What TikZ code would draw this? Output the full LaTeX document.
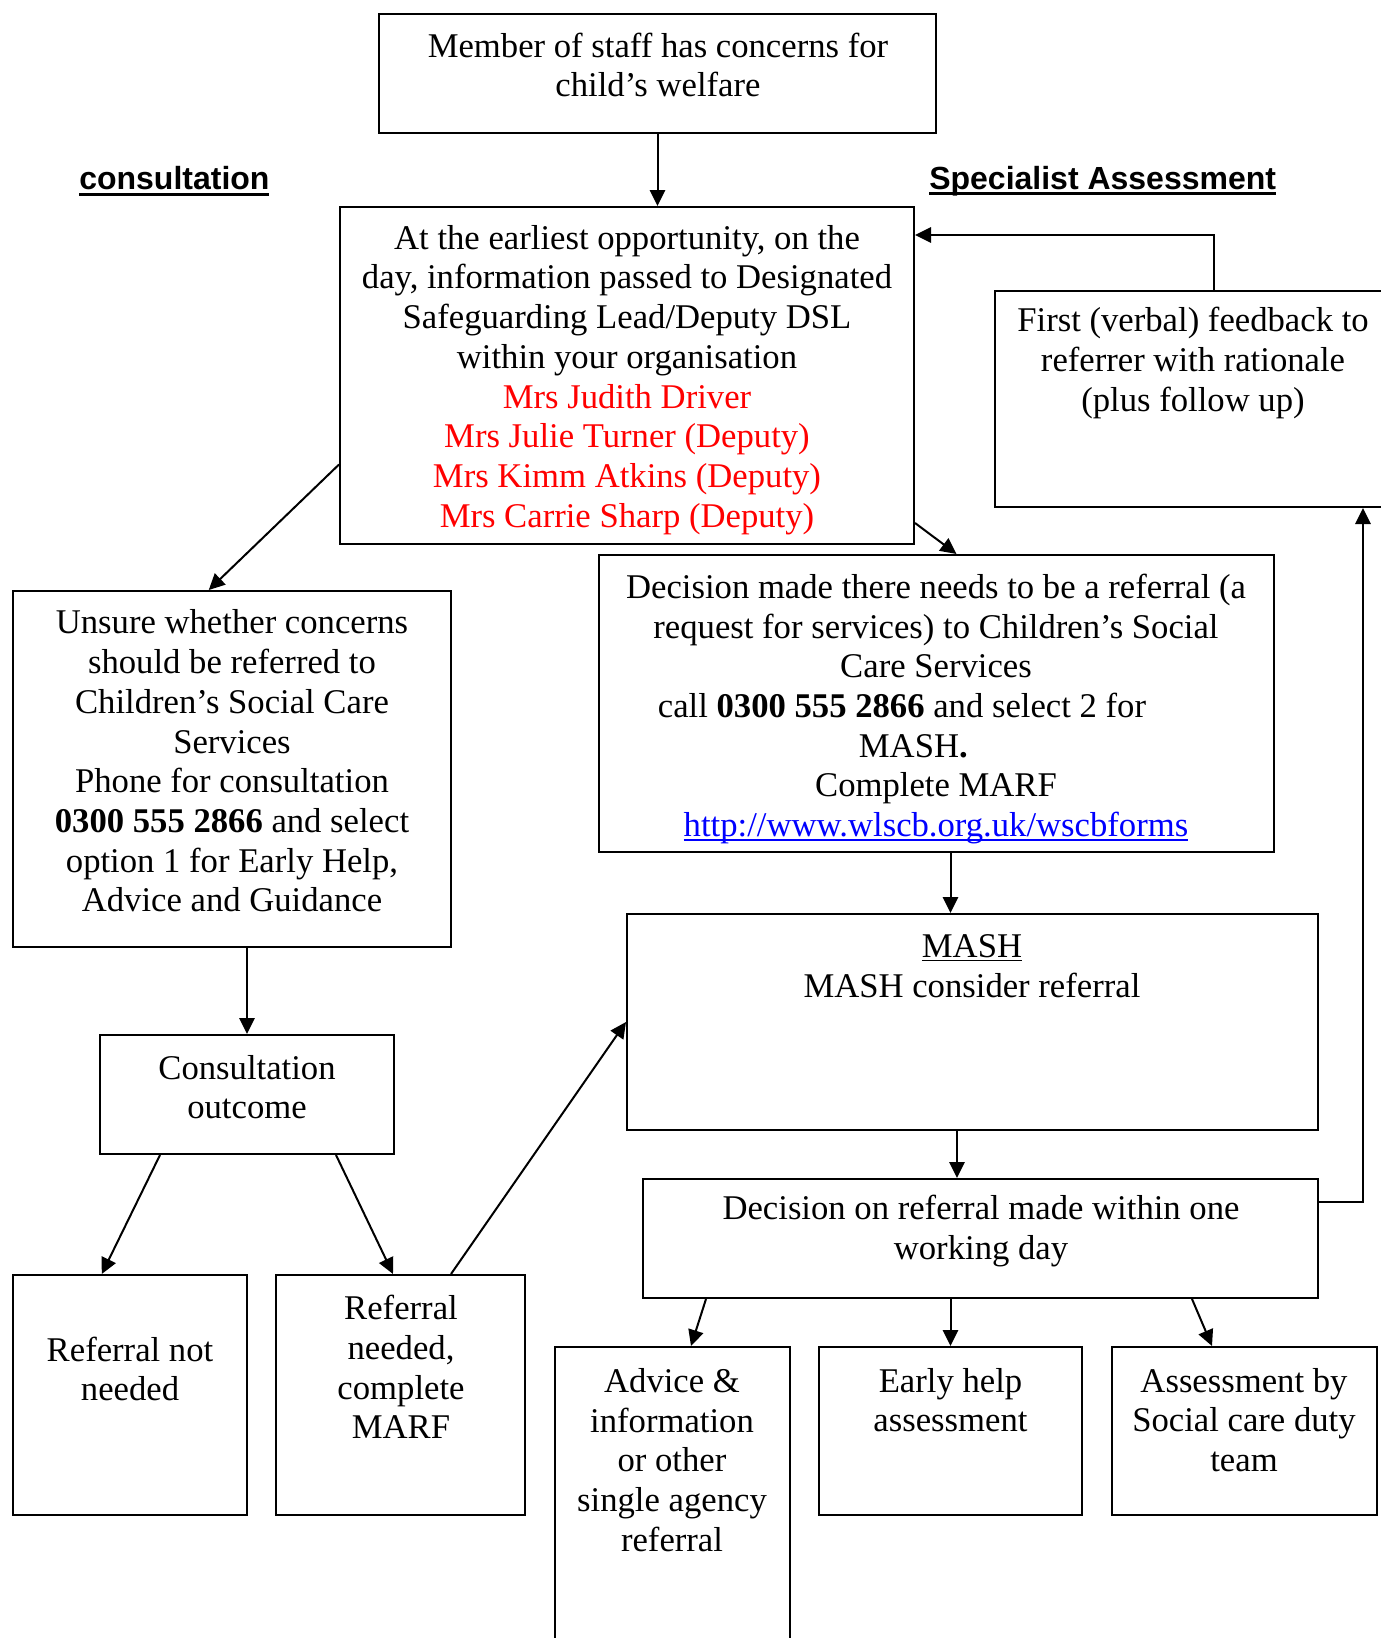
\documentclass[tikz,border=0pt]{standalone}
\usepackage{fontspec}
\setmainfont{Liberation Serif}
\newfontfamily\headfont{Liberation Sans}
\usetikzlibrary{calc,arrows.meta}
\newcommand\thickul[1]{\setbox0\hbox{#1}\mbox{\rlap{\rule[-4.5pt]{\wd0}{2.2pt}}\box0}}
\newcommand\thinul[1]{\setbox0\hbox{#1}\mbox{\rlap{\rule[-3pt]{\wd0}{1.2pt}}\box0}}
\definecolor{linkblue}{RGB}{0,0,255}
\newcommand\bx[5]{\node[box, minimum width={(#4-#2)*0.75pt}, minimum height={(#5-#3)*0.75pt}] (#1) at ({(#2+#4)/2},{(#3+#5)/2}) {};}
\begin{document}
\begin{tikzpicture}[x=0.75pt,y=-0.75pt,
  box/.style={draw, line width=1.5pt, inner sep=0pt},
  txt/.style={align=center, inner sep=0pt, font=\fontsize{26}{29.8}\selectfont},
  arr/.style={line width=1.5pt, -{Triangle[length=12pt,width=11.5pt]}},
  head/.style={anchor=west, inner sep=0pt, font=\headfont\bfseries\fontsize{24}{28}\selectfont}]
\useasboundingbox[fill=white] (0,0) rectangle (1381,1638);

% boxes
\bx{top}{379}{14}{936}{133}
\bx{dsl}{340}{207}{914}{544}
\bx{fb}{995}{291}{1383}{507}
\bx{unsure}{12.5}{591}{451}{947}
\bx{dec}{599}{555}{1274}{852}
\bx{mash}{627}{914}{1318}{1130}
\bx{outcome}{100}{1035}{394}{1154}
\bx{notneeded}{12.5}{1275}{247}{1515}
\bx{needed}{276}{1275}{525}{1515}
\bx{dec2}{643}{1179}{1318}{1298}
\bx{advice}{555}{1347}{790}{1645}
\bx{early}{819}{1347}{1082}{1515}
\bx{assess}{1112}{1347}{1377}{1515}

% headings
\node[head] (hcons) at (79,181) {\thickul{consultation}};
\node[head] (hspec) at (929,181) {\thickul{Specialist Assessment}};

% texts
\node[txt] (ttop) at (658,65) {Member of staff has concerns for\\child’s welfare};
\node[txt] (tdsl) at (627,380) {At the earliest opportunity, on the\\day, information passed to Designated\\Safeguarding Lead/Deputy DSL\\within your organisation\\\textcolor{red}{Mrs Judith Driver}\\\textcolor{red}{Mrs Julie Turner (Deputy)}\\\textcolor{red}{Mrs Kimm Atkins (Deputy)}\\\textcolor{red}{Mrs Carrie Sharp (Deputy)}};
\node[txt] (tfb) at (1193,363) {First (verbal) feedback to\\referrer with rationale\\(plus follow up)};
\node[txt] (tunsure) at (232,761) {Unsure whether concerns\\should be referred to\\Children’s Social Care\\Services\\Phone for consultation\\\textbf{0300 555 2866} and select\\option 1 for Early Help,\\Advice and Guidance};
\node[txt] (tdec) at (936,709) {Decision made there needs to be a referral (a\\request for services) to Children’s Social\\Care Services\\call \textbf{0300 555 2866} and select 2 for\rule{51pt}{0pt}\\MASH\textbf{.}\rule{34pt}{0pt}\\Complete MARF\\\textcolor{linkblue}{\thinul{http://www.wlscb.org.uk/wscbforms}}};
\node[txt] (tmash) at (972,966) {\thinul{MASH}\\MASH consider referral};
\node[txt] (toutcome) at (247,1087) {Consultation\\outcome};
\node[txt] (tnot) at (130,1369) {Referral not\\needed};
\node[txt] (tneeded) at (401,1367) {Referral\\needed,\\complete\\MARF};
\node[txt] (tdec2) at (981,1231) {Decision on referral made within one\\working day};
\node[txt] (tadvice) at (672,1460) {Advice \&\\information\\or other\\single agency\\referral};
\node[txt] (tearly) at (950.5,1400) {Early help\\assessment};
\node[txt] (tassess) at (1244,1420) {Assessment by\\Social care duty\\team};

% connectors
\draw[arr] (top.south) -- (top.south |- dsl.north);
\draw[arr] ($(dsl.west)+(0,89)$) -- ($(unsure.north)+(-23,0)$);
\draw[arr] ($(dsl.south east)+(0,-22)$) -- ($(dec.north)+(20,0)$);
\coordinate (p4) at ($(dec.south)+(14,0)$);
\draw[arr] (p4) -- (p4 |- mash.north);
\draw[arr] ($(fb.north)+(25,0)$) |- ($(dsl.north east)+(0,29)$);
\draw[arr] (outcome.north |- unsure.south) -- (outcome.north);
\draw[arr] ($(outcome.south)+(-87,0)$) -- ($(notneeded.north)+(-28,0)$);
\draw[arr] ($(outcome.south)+(89,0)$) -- ($(needed.north)+(-7.5,0)$);
\draw[arr] ($(needed.north)+(50.5,0)$) -- (mash.west);
\coordinate (p9) at ($(mash.south)+(-15.5,0)$);
\draw[arr] (p9) -- (p9 |- dec2.north);
\draw[arr] ($(dec2.east)+(0,-37)$) -| ($(fb.south)+(174,0)$);
\draw[arr] ($(dec2.south)+(-274.5,0)$) -- ($(advice.north)+(18.5,0)$);
\draw[arr] (early.north |- dec2.south) -- (early.north);
\draw[arr] ($(dec2.south)+(211.5,0)$) -- ($(assess.north)+(-32.5,0)$);
\end{tikzpicture}
\end{document}
